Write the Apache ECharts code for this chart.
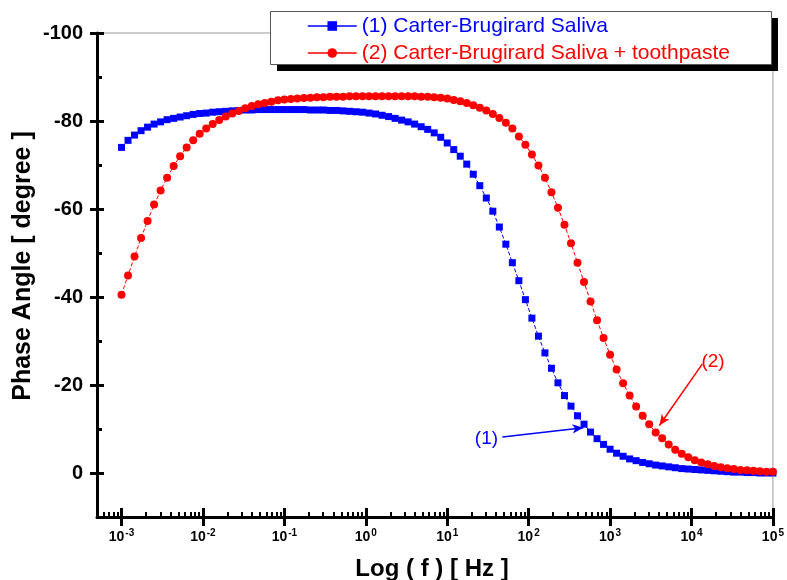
<!DOCTYPE html>
<html>
<head>
<meta charset="utf-8">
<script src="https://cdn.jsdelivr.net/npm/echarts@6/dist/echarts.min.js"></script>
<style>
  body { margin: 0; background: #fff; }
  #main { width: 787px; height: 580px; }
</style>
</head>
<body>
<div id="main"></div>
<script>
// log10 of frequency (Hz) for every measured point
const logF = [
  -3, -2.92, -2.84, -2.76, -2.68, -2.6, -2.52, -2.44, -2.36, -2.28,
  -2.2, -2.12, -2.04, -1.96, -1.88, -1.8, -1.72, -1.64, -1.56, -1.48,
  -1.4, -1.32, -1.24, -1.16, -1.08, -1, -0.92, -0.84, -0.76, -0.68,
  -0.6, -0.52, -0.44, -0.36, -0.28, -0.2, -0.12, -0.04, 0.04, 0.12,
  0.2, 0.28, 0.36, 0.44, 0.52, 0.6, 0.68, 0.76, 0.84, 0.92,
  1, 1.08, 1.16, 1.24, 1.32, 1.4, 1.48, 1.56, 1.64, 1.72,
  1.8, 1.88, 1.96, 2.04, 2.12, 2.2, 2.28, 2.36, 2.44, 2.52,
  2.6, 2.68, 2.76, 2.84, 2.92, 3, 3.08, 3.16, 3.24, 3.32,
  3.4, 3.48, 3.56, 3.64, 3.72, 3.8, 3.88, 3.96, 4.04, 4.12,
  4.2, 4.28, 4.36, 4.44, 4.52, 4.6, 4.68, 4.76, 4.84, 4.92,
  5
];
// (1) Carter-Brugirard Saliva
const saliva = [
  -74.0, -75.6, -76.8, -77.8, -78.6, -79.3, -79.8, -80.3, -80.6, -80.9,
  -81.2, -81.5, -81.7, -81.8, -82.0, -82.1, -82.2, -82.3, -82.4, -82.5,
  -82.5, -82.6, -82.6, -82.6, -82.6, -82.6, -82.6, -82.6, -82.6, -82.5,
  -82.5, -82.5, -82.4, -82.4, -82.3, -82.2, -82.1, -82.0, -81.8, -81.6,
  -81.3, -81.0, -80.6, -80.2, -79.8, -79.3, -78.7, -78.1, -77.3, -76.3,
  -75.0, -73.5, -72.0, -70.2, -67.9, -65.3, -62.5, -59.5, -55.9, -52.0,
  -47.8, -43.7, -39.4, -35.2, -31.1, -27.3, -23.8, -20.5, -17.6, -15.2,
  -13.0, -11.1, -9.3, -7.8, -6.5, -5.4, -4.5, -3.8, -3.2, -2.8,
  -2.4, -2.1, -1.8, -1.6, -1.4, -1.2, -1.0, -0.9, -0.8, -0.7,
  -0.6, -0.5, -0.4, -0.3, -0.2, -0.2, -0.1, -0.1, 0, 0,
  0
];
// (2) Carter-Brugirard Saliva + toothpaste
const salivaPaste = [
  -40.5, -44.9, -49.2, -53.4, -57.3, -61.0, -64.2, -67.1, -69.8, -72.0,
  -74.0, -75.6, -77.1, -78.3, -79.3, -80.2, -81.0, -81.7, -82.3, -82.9,
  -83.4, -83.8, -84.1, -84.4, -84.7, -84.9, -85.0, -85.1, -85.2, -85.3,
  -85.4, -85.4, -85.5, -85.5, -85.5, -85.6, -85.6, -85.6, -85.6, -85.6,
  -85.6, -85.6, -85.6, -85.6, -85.6, -85.6, -85.5, -85.5, -85.4, -85.3,
  -85.1, -84.8, -84.5, -84.1, -83.6, -83.0, -82.4, -81.6, -80.7, -79.6,
  -78.3, -76.5, -74.6, -72.4, -69.9, -67.1, -63.8, -60.3, -56.4, -52.2,
  -47.8, -43.4, -39.0, -34.7, -30.7, -26.9, -23.5, -20.4, -17.6, -15.1,
  -13.0, -11.1, -9.2, -7.9, -6.5, -5.3, -4.4, -3.6, -2.9, -2.4,
  -2.0, -1.6, -1.3, -1.1, -0.9, -0.7, -0.6, -0.5, -0.4, -0.3,
  -0.3
];
const names = ["(1) Carter-Brugirard Saliva", "(2) Carter-Brugirard Saliva + toothpaste"];
const xMajor = [-3, -2, -1, 0, 1, 2, 3, 4, 5];
const yMajor = [-100, -80, -60, -40, -20, 0];
const yMinor = [-90, -70, -50, -30, -10];
// annotations (data coordinates)
const noteText = ["(1)", "(2)"];
const notePos = [[1.482, -7.7], [4.265, -25.3]];
const arrowFrom = [[1.677, -8.2], [4.134, -24.8]];
const arrowTo = [[2.672, -10.3], [3.605, -10.8]];

const BLUE = "#0000ff";
const RED = "#ff0000";
const FONT = '"Liberation Sans", Arial, sans-serif';
const xMin = Math.log10(5e-4);
const xMax = 5;

// minor ticks at 2..9 x 10^n
let xMinor = [];
for (let n = -4; n <= 4; n++) {
  for (let k = 2; k <= 9; k++) {
    let v = Math.log10(k) + n;
    if (v > xMin && v < xMax) xMinor.push(v);
  }
}

function pairs(ys) {
  return ys.map((y, i) => [logF[i], y]);
}

function xAxisBase(extra) {
  return Object.assign({
    type: "value", min: xMin, max: xMax, position: "bottom",
    axisLine: { show: false, onZero: false },
    axisLabel: { show: false },
    splitLine: { show: false }
  }, extra);
}
function yAxisBase(extra) {
  return Object.assign({
    type: "value", min: -100, max: 10, inverse: true, position: "left",
    axisLine: { show: false, onZero: false },
    axisLabel: { show: false },
    splitLine: { show: false }
  }, extra);
}

let myEcharts = echarts.init(document.getElementById("main"));
let option = {
  animation: false,
  backgroundColor: "#fff",
  grid: {
    left: 97, top: 33, width: 681, height: 484,
    show: true, borderColor: "#9a9a9a", borderWidth: 1
  },
  legend: {
    left: 270, top: 11, orient: "vertical", z: 10,
    itemWidth: 49, itemHeight: 12, itemGap: 5,
    padding: [4, 35, 2, 37],
    lineStyle: { type: "solid", width: 1.5 },
    textStyle: { fontSize: 21, fontFamily: FONT, lineHeight: 22 },
    data: [
      { name: names[0], textStyle: { color: BLUE } },
      { name: names[1], textStyle: { color: RED } }
    ]
  },
  xAxis: [
    xAxisBase({
      axisLine: { show: true, onZero: false, lineStyle: { color: "#000", width: 3 } },
      axisTick: { show: true, inside: false, length: 9, customValues: xMajor, lineStyle: { color: "#000", width: 3 } },
      axisLabel: {
        show: true, margin: 11, customValues: xMajor,
        formatter: v => "{b|10}{s|" + Math.round(v) + "}",
        rich: {
          b: { fontSize: 14, fontWeight: "bold", fontFamily: FONT, color: "#000" },
          s: { fontSize: 10, fontWeight: "bold", fontFamily: FONT, color: "#000", padding: [0, 0, 9, 1] }
        }
      }
    }),
    xAxisBase({
      axisTick: { show: true, inside: true, length: 9, customValues: xMajor, lineStyle: { color: "#000", width: 3 } }
    }),
    xAxisBase({
      axisTick: { show: true, inside: true, length: 5, customValues: xMinor, lineStyle: { color: "#000", width: 2 } }
    })
  ],
  yAxis: [
    yAxisBase({
      axisLine: { show: true, onZero: false, lineStyle: { color: "#000", width: 3 } },
      axisTick: { show: true, inside: false, length: 7, customValues: yMajor, lineStyle: { color: "#000", width: 3 } },
      axisLabel: {
        show: true, margin: 14, customValues: yMajor,
        fontSize: 20, fontWeight: "bold", fontFamily: FONT, color: "#000"
      }
    }),
    yAxisBase({
      axisTick: { show: true, inside: true, length: 7, customValues: yMajor, lineStyle: { color: "#000", width: 3 } }
    }),
    yAxisBase({
      axisTick: { show: true, inside: true, length: 5, customValues: yMinor, lineStyle: { color: "#000", width: 3 } }
    })
  ],
  series: [
    {
      name: names[0], type: "line", xAxisIndex: 0, yAxisIndex: 0,
      data: pairs(saliva),
      symbol: "rect", symbolSize: 7, showAllSymbol: true,
      color: BLUE,
      itemStyle: { color: BLUE },
      lineStyle: { color: BLUE, width: 1, type: "dashed" },
      markLine: {
        silent: true, symbol: ["none", "arrow"], symbolSize: [7, 11],
        lineStyle: { color: BLUE, width: 1.5, type: "solid" },
        label: { show: false },
        data: [[{ coord: arrowFrom[0] }, { coord: arrowTo[0] }]]
      }
    },
    {
      name: names[1], type: "line", xAxisIndex: 0, yAxisIndex: 0,
      data: pairs(salivaPaste),
      symbol: "circle", symbolSize: 8, showAllSymbol: true,
      color: RED,
      itemStyle: { color: RED },
      lineStyle: { color: RED, width: 1, type: "dashed" },
      markLine: {
        silent: true, symbol: ["none", "arrow"], symbolSize: [7, 11],
        lineStyle: { color: RED, width: 1.5, type: "solid" },
        label: { show: false },
        data: [[{ coord: arrowFrom[1] }, { coord: arrowTo[1] }]]
      }
    }
  ]
};
myEcharts.setOption(option);

// legend frame with hard shadow, titles and annotation texts
let graphics = [
  {
    type: "rect", z: 5, shape: { x: 277, y: 18, width: 501, height: 53 },
    style: { fill: "#000" }
  },
  {
    type: "rect", z: 6, shape: { x: 270.5, y: 11.5, width: 501, height: 53 },
    style: { fill: "#fff", stroke: "#555", lineWidth: 1 }
  },
  {
    type: "text", x: 432, y: 569,
    style: { text: "Log ( f ) [ Hz ]", font: "bold 24px " + FONT, fill: "#000", align: "center", verticalAlign: "middle" }
  },
  {
    type: "text", x: 23, y: 266, rotation: Math.PI / 2,
    style: { text: "Phase Angle [ degree ]", font: "bold 25px " + FONT, fill: "#000", align: "center", verticalAlign: "middle" }
  }
];
notePos.forEach((p, i) => {
  let px = myEcharts.convertToPixel({ gridIndex: 0 }, p);
  graphics.push({
    type: "text", x: px[0], y: px[1],
    style: { text: noteText[i], font: "19px " + FONT, fill: i === 0 ? BLUE : RED, align: "center", verticalAlign: "middle" }
  });
});
myEcharts.setOption({ graphic: graphics });
</script>
</body>
</html>
